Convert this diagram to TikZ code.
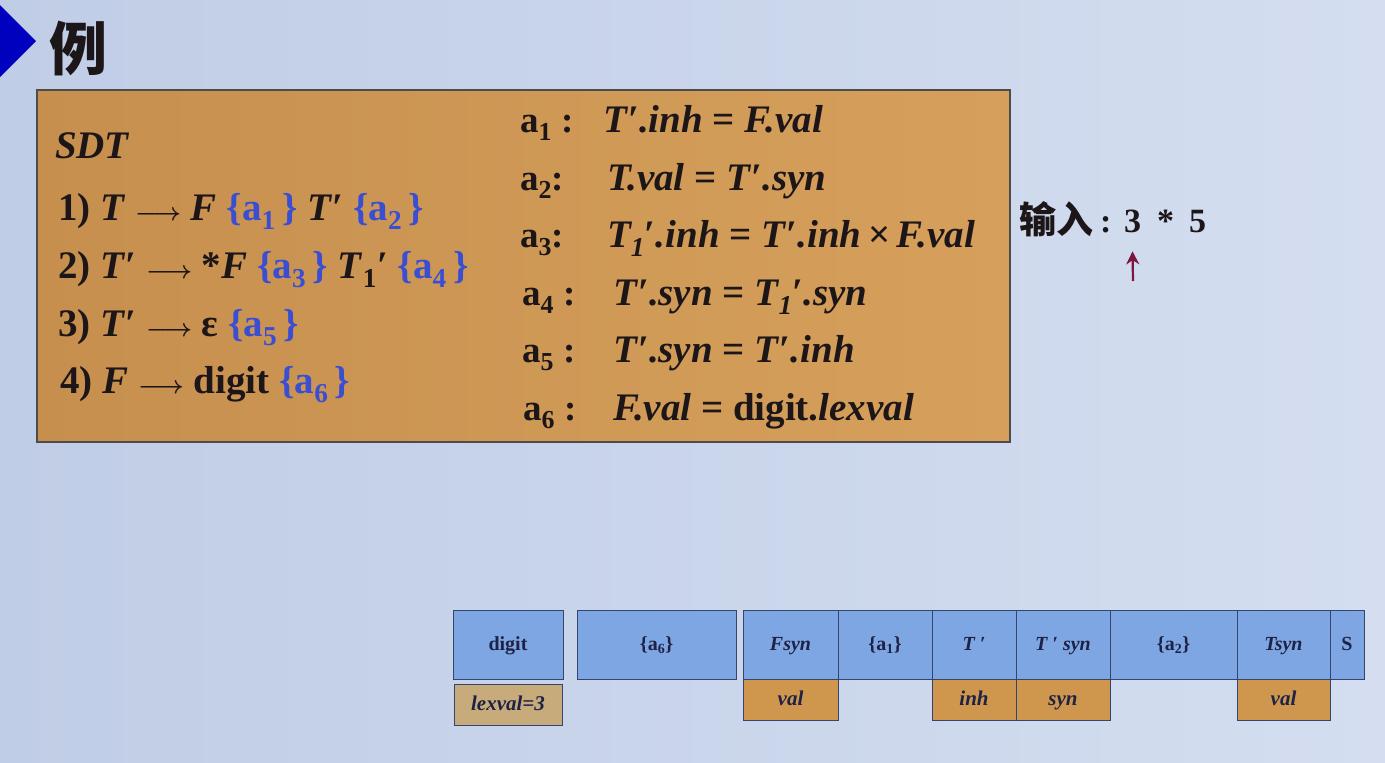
\documentclass[tikz,border=0pt]{standalone}
\usepackage{amsmath}
\usepackage{fontspec}
\setmainfont{Liberation Serif}
\newfontfamily\cjk{Noto Sans CJK SC}
\usepackage{tikz}
\usetikzlibrary{arrows.meta,positioning}
\definecolor{slidebgL}{RGB}{192,205,230}
\definecolor{slidebgR}{RGB}{212,222,240}
\definecolor{sdtboxL}{RGB}{198,143,78}
\definecolor{sdtboxR}{RGB}{214,160,92}
\definecolor{actblue}{RGB}{58,78,212}
\definecolor{cellblue}{RGB}{126,166,226}
\definecolor{cellline}{RGB}{52,70,112}
\definecolor{attrorg}{RGB}{207,151,78}
\definecolor{lexorg}{RGB}{199,171,122}
\definecolor{inkdark}{RGB}{28,22,24}
\definecolor{tapeink}{RGB}{30,34,70}
\definecolor{ptrred}{RGB}{125,22,60}
\newcommand{\act}[1]{\textcolor{actblue}{\{a\textsubscript{#1}\,\}}}
\newcommand{\yields}{\hspace{0.25em}$\boldsymbol{\longrightarrow}$\hspace{0.25em}}

\begin{document}
\begin{tikzpicture}[
    x=1pt, y=-1pt,
    every node/.style={inner sep=0pt, outer sep=0pt, text=inkdark},
    rule/.style={anchor=base west, font=\bfseries\fontsize{39}{44}\selectfont},
    lab/.style={anchor=base west, font=\bfseries\fontsize{37}{42}\selectfont},
    sym/.style={anchor=base west, font=\bfseries\fontsize{34}{38}\selectfont},
    cell/.style={draw=cellline, line width=1pt, fill=cellblue, minimum height=69pt,
                 text height=14pt, text depth=4pt,
                 text=tapeink, font=\bfseries\fontsize{20}{22}\selectfont},
    attr/.style={draw=cellline, line width=1pt, fill=attrorg, minimum height=41pt,
                 text height=14pt, text depth=4pt,
                 text=tapeink, font=\bfseries\itshape\fontsize{21}{23}\selectfont},
    ptr/.style={-{Stealth[length=13pt,width=13pt]}, line width=2.2pt, draw=ptrred}
  ]
  % slide background and title
  \shade[left color=slidebgL, right color=slidebgR] (0,0) rectangle (1385,763);
  \useasboundingbox (0,0) rectangle (1385,763);
  \fill[blue!75!black] (0,5) -- (36,41) -- (0,77) -- cycle;
  \node[font=\cjk\bfseries\fontsize{58}{60}\selectfont] (title) at (78,48) {例};

  % SDT box
  \shade[left color=sdtboxL, right color=sdtboxR] (37,90) rectangle (1010,442);
  \draw[draw=gray!60!black, line width=2pt] (37,90) rectangle (1010,442);
  \node[rule, font=\bfseries\itshape\fontsize{39}{42}\selectfont] (sdt) at (55,158) {SDT};
  \node[rule] (p1) at (58,220) {1) \textit{T}\yields\textit{F} \act{1} \textit{T}′ \act{2}};
  \node[rule] (p2) at (58,278) {2) \textit{T}′\yields*\textit{F} \act{3} \textit{T}\textsubscript{1}′ \act{4}};
  \node[rule] (p3) at (58,336) {3) \textit{T}′\yields ε \act{5}};
  \node[rule] (p4) at (60,393) {4) \textit{F}\yields digit \act{6}};

  % semantic actions
  \node[lab] (a1) at (520,132) {a\textsubscript{1} :};
  \node[lab] (a2) at (520,190) {a\textsubscript{2}:};
  \node[lab] (a3) at (520,247) {a\textsubscript{3}:};
  \node[lab] (a4) at (522,305) {a\textsubscript{4} :};
  \node[lab] (a5) at (522,362) {a\textsubscript{5} :};
  \node[lab] (a6) at (523,420) {a\textsubscript{6} :};
  \node[rule] (e1) at (603,132) {\textit{T}′\textit{.inh} = \textit{F.val}};
  \node[rule] (e2) at (607,190) {\textit{T.val} = \textit{T}′\textit{.syn}};
  \node[rule] (e3) at (607,247) {\textit{T\textsubscript{1}}′\textit{.inh} = \textit{T}′\textit{.inh}\,×\,\textit{F.val}};
  \node[rule] (e4) at (613,305) {\textit{T}′\textit{.syn} = \textit{T\textsubscript{1}}′\textit{.syn}};
  \node[rule] (e5) at (613,362) {\textit{T}′\textit{.syn} = \textit{T}′\textit{.inh}};
  \node[rule] (e6) at (613,420) {\textit{F.val} = digit.\textit{lexval}};

  % input and pointer
  \node[anchor=base west, font=\cjk\bfseries\fontsize{37}{39}\selectfont] (inlbl) at (1019,233) {输入};
  \node[sym] (colon) at (1100,232) {:};
  \node[sym] (three) at (1124,232) {3};
  \node[sym, right=16pt of three.base east, anchor=base west] (star) {*};
  \node[sym, right=15pt of star.base east, anchor=base west] (five) {5};
  \coordinate (ptrfoot) at (1133,281);
  \draw[ptr] (ptrfoot) -- ([yshift=-19pt]three.south);

  % parsing stack
  \node[cell, minimum width=110pt] (digit) at (508,645) {digit};
  \node[cell, minimum width=159pt, right=14pt of digit] (sa6) {\{a\textsubscript{6}\}};
  \node[cell, minimum width=95pt, right=7pt of sa6, font=\bfseries\itshape\fontsize{20}{22}\selectfont] (fsyn) {Fsyn};
  \node[cell, minimum width=94pt, right=0pt of fsyn] (sa1) {\{a\textsubscript{1}\}};
  \node[cell, minimum width=84pt, right=0pt of sa1, font=\bfseries\itshape\fontsize{20}{22}\selectfont] (tp) {T ′};
  \node[cell, minimum width=94pt, right=0pt of tp, font=\bfseries\itshape\fontsize{20}{22}\selectfont] (tpsyn) {T ′ syn};
  \node[cell, minimum width=127pt, right=0pt of tpsyn] (sa2) {\{a\textsubscript{2}\}};
  \node[cell, minimum width=93pt, right=0pt of sa2, font=\bfseries\itshape\fontsize{20}{22}\selectfont] (tsyn) {Tsyn};
  \node[cell, minimum width=34pt, right=0pt of tsyn] (send) {S};

  % attribute fields
  \node[attr, fill=lexorg, minimum width=108pt, below=5pt of digit] (lexval) {lexval=3};
  \node[attr, minimum width=95pt, below=0pt of fsyn] (fval) {val};
  \node[attr, minimum width=84pt, below=0pt of tp] (tinh) {inh};
  \node[attr, minimum width=94pt, below=0pt of tpsyn] (tsynf) {syn};
  \node[attr, minimum width=93pt, below=0pt of tsyn] (tval) {val};
\end{tikzpicture}
\end{document}
